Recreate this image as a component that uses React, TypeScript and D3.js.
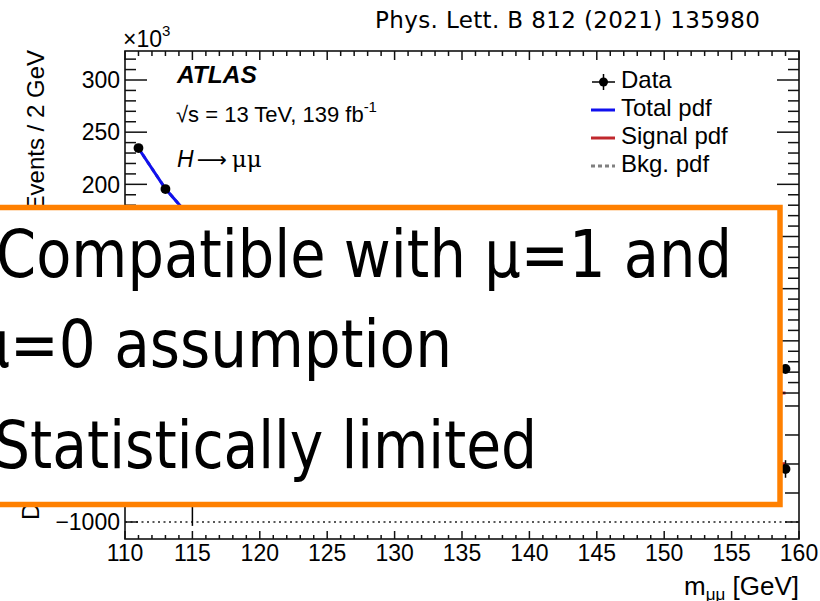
import React from 'react';
import * as d3 from 'd3';

// Dimuon mass bin centres [GeV], 2 GeV bins from 110 to 160
const massBins = [111, 113, 115, 117, 119, 121, 123, 125, 127, 129, 131, 133, 135, 137, 139, 141, 143, 145, 147, 149, 151, 153, 155, 157, 159];

// Observed events per bin (×10^3)
const dataEvents = [234.8, 195.5, 165.7, 142.9, 123.1, 108.0, 95.3, 84.5, 75.4, 68.3, 61.5, 55.9, 51.2, 46.7, 43.0, 39.7, 36.5, 33.9, 31.6, 29.3, 27.6, 25.9, 24.8, 23.9, 23.0];

// Fitted total pdf (×10^3)
const totalPdf = [234.6, 195.8, 166.0, 142.5, 123.4, 107.8, 95.0, 84.4, 75.6, 68.1, 61.6, 56.0, 51.1, 46.8, 43.0, 39.6, 36.6, 33.9, 31.5, 29.4, 27.5, 26.0, 24.8, 23.9, 23.1];

// Fitted signal pdf (×10^3)
const signalPdf = [0.005, 0.01, 0.02, 0.04, 0.08, 0.17, 0.3, 0.37, 0.26, 0.12, 0.05, 0.025, 0.015, 0.01, 0.008, 0.006, 0.005, 0.004, 0.004, 0.003, 0.003, 0.003, 0.003, 0.003, 0.003];

// Data minus background fit (events)
const dataMinusBkg = [-150, 210, -660, 120, -80, 180, -60, 240, 90, -130, 60, -40, 110, -90, 30, 70, -110, 50, -20, 80, -60, 40, -30, 20, -86];

const mainTicks = [0, 50, 100, 150, 200, 250, 300];
const mainMinorTicks = d3.range(0, 330, 10);
const lowerTicks = [-1000, -500, 0, 500, 1000];
const massTicks = [110, 115, 120, 125, 130, 135, 140, 145, 150, 155, 160];
const massMinorTicks = d3.range(110, 161, 1);

const legendLabels = ['Data', 'Total pdf', 'Signal pdf', 'Bkg. pdf'];
const summaryLines = ['Compatible with μ=1 and', 'μ=0 assumption', 'Statistically limited'];

const FONT = "'Liberation Sans', Arial, Helvetica, sans-serif";
const SLIDE_FONT = "'DejaVu Sans', 'Liberation Sans', sans-serif";
const BLUE = '#1010ee';
const RED = '#c0282d';
const GREY = '#808080';
const ORANGE = '#ff8000';

export default function App() {
  const left = 125;
  const right = 799;
  const top = 51;
  const bottom = 539;
  const split = 400;

  const x = d3.scaleLinear().domain([110, 160]).range([left, right]);
  const yMain = d3.scaleLinear().domain([-6.7, 327.8]).range([split, top]);
  const yLow = d3.scaleLinear().domain([-1293, 1103]).range([bottom, split]);

  const mainLine = d3
    .line<number>()
    .x((_, i) => x(massBins[i]))
    .y((d) => yMain(d));
  const lowLine = d3
    .line<number>()
    .x((_, i) => x(massBins[i]))
    .y((d) => yLow(d));

  const bkgPdf = totalPdf.map((t, i) => t - signalPdf[i]);
  const signalResidual = signalPdf.map((s) => s * 1000);

  const axisStroke = '#111';

  return (
    <svg
      width={820}
      height={601}
      viewBox="0 0 820 601"
      style={{ position: 'absolute', left: 0, top: 0, background: '#fff' }}
      fontFamily={FONT}
    >
      <rect x={0} y={0} width={820} height={601} fill="#fff" />

      {/* Curves in main panel */}
      <path d={mainLine(bkgPdf) || ''} fill="none" stroke={GREY} strokeWidth={3} strokeDasharray="4,4" />
      <path d={mainLine(signalPdf) || ''} fill="none" stroke={RED} strokeWidth={3} />
      <path d={mainLine(totalPdf) || ''} fill="none" stroke={BLUE} strokeWidth={3} />

      {/* Data points, main panel */}
      {dataEvents.map((v, i) => {
        const err = Math.sqrt(v * 1000) / 1000;
        return (
          <g key={`d${i}`}>
            <line x1={x(massBins[i])} x2={x(massBins[i])} y1={yMain(v + err)} y2={yMain(v - err)} stroke="#000" strokeWidth={1.5} />
            <circle cx={x(massBins[i])} cy={yMain(v)} r={4.9} fill="#000" />
          </g>
        );
      })}

      {/* Lower panel: reference line, signal residual and data minus background */}
      <line x1={left} x2={right} y1={yLow(-1000)} y2={yLow(-1000)} stroke="#222" strokeWidth={1.5} strokeDasharray="2,3.5" />
      <path d={lowLine(signalResidual) || ''} fill="none" stroke={RED} strokeWidth={3} />
      {dataMinusBkg.map((v, i) => {
        const err = Math.sqrt(dataEvents[i] * 1000);
        return (
          <g key={`r${i}`}>
            <line x1={x(massBins[i])} x2={x(massBins[i])} y1={yLow(v + err)} y2={yLow(v - err)} stroke="#000" strokeWidth={1.5} />
            <circle cx={x(massBins[i])} cy={yLow(v)} r={4.9} fill="#000" />
          </g>
        );
      })}

      {/* Frame */}
      <rect x={left} y={top} width={right - left} height={bottom - top} fill="none" stroke={axisStroke} strokeWidth={1.6} />

      {/* Main panel y ticks (left and right) */}
      {mainMinorTicks.map((t) => {
        const major = t % 50 === 0;
        const len = major ? 22 : 11;
        const yy = yMain(t);
        return (
          <g key={`my${t}`}>
            <line x1={left} x2={left + len} y1={yy} y2={yy} stroke={axisStroke} strokeWidth={1.5} />
            <line x1={right - len} x2={right} y1={yy} y2={yy} stroke={axisStroke} strokeWidth={1.5} />
          </g>
        );
      })}
      {mainTicks.map((t) => (
        <text key={`ml${t}`} x={120} y={yMain(t)} dy="0.36em" textAnchor="end" fontSize={23} fill="#000">
          {t}
        </text>
      ))}

      {/* Lower panel y ticks */}
      {lowerTicks.map((t) => {
        const yy = yLow(t);
        return (
          <g key={`ly${t}`}>
            <line x1={left} x2={left + 13} y1={yy} y2={yy} stroke={axisStroke} strokeWidth={1.5} />
            <line x1={right - 14} x2={right} y1={yy} y2={yy} stroke={axisStroke} strokeWidth={1.5} />
            {t % 1000 === 0 && (
              <text x={120} y={yy} dy="0.36em" textAnchor="end" fontSize={23} fill="#000">
                {t < 0 ? `\u2212${Math.abs(t)}` : t}
              </text>
            )}
          </g>
        );
      })}

      {/* x ticks top and bottom */}
      {massMinorTicks.map((t) => {
        const major = t % 5 === 0;
        const xx = x(t);
        return (
          <g key={`xt${t}`}>
            <line x1={xx} x2={xx} y1={top} y2={top + (major ? 9 : 5)} stroke={axisStroke} strokeWidth={1.5} />
            <line x1={xx} x2={xx} y1={bottom} y2={bottom - (major ? 8 : 4)} stroke={axisStroke} strokeWidth={1.5} />
          </g>
        );
      })}
      {massTicks.map((t) => (
        <text key={`xl${t}`} x={x(t)} y={561} textAnchor="middle" fontSize={23} fill="#000">
          {t}
        </text>
      ))}

      {/* Axis titles */}
      <text x={799} y={595} textAnchor="end" fontSize={26} fill="#000">
        m<tspan fontSize={17} dy={5}>μμ</tspan>
        <tspan dy={-5}> [GeV]</tspan>
      </text>
      <text transform="translate(44,50) rotate(-90)" textAnchor="end" fontSize={24} fill="#000">
        Events / 2 GeV
      </text>
      <text transform="translate(39,520) rotate(-90)" textAnchor="start" fontSize={24} fill="#000">
        Data − Bkg.
      </text>
      <text x={123} y={47} fontSize={23} fill="#000">
        ×10<tspan fontSize={15} dy={-11}>3</tspan>
      </text>

      {/* ATLAS label */}
      <text x={177} y={83} fontSize={24.5} fontWeight="bold" fontStyle="italic" fill="#000">
        ATLAS
      </text>
      <text x={176} y={122} fontSize={22} fill="#000">
        √s = 13 TeV, 139 fb<tspan fontSize={15} dy={-10}>-1</tspan>
      </text>
      <text x={177} y={167} fontSize={23} fill="#000">
        <tspan fontStyle="italic">H</tspan>
        <tspan fontFamily="'DejaVu Sans', sans-serif" fontSize={21} dx={3}>⟶</tspan>
        <tspan fontFamily="'DejaVu Serif', serif" fontSize={23} dx={5}>μμ</tspan>
      </text>

      {/* Legend */}
      {legendLabels.map((label, i) => {
        const yy = 88 + i * 28;
        const cy = yy - 6;
        return (
          <g key={label}>
            {i === 0 && (
              <g>
                <line x1={592} x2={615} y1={cy} y2={cy} stroke="#000" strokeWidth={1.5} />
                <line x1={603.5} x2={603.5} y1={cy - 8} y2={cy + 8} stroke="#000" strokeWidth={1.5} />
                <circle cx={603.5} cy={cy} r={4.5} fill="#000" />
              </g>
            )}
            {i === 1 && <line x1={591} x2={615} y1={cy} y2={cy} stroke={BLUE} strokeWidth={3} />}
            {i === 2 && <line x1={591} x2={615} y1={cy} y2={cy} stroke={RED} strokeWidth={3} />}
            {i === 3 && <line x1={591} x2={615} y1={cy} y2={cy} stroke={GREY} strokeWidth={3} strokeDasharray="4,3" />}
            <text x={621} y={yy} fontSize={24} fill="#000">
              {label}
            </text>
          </g>
        );
      })}

      {/* Reference */}
      <text x={375} y={28} fontSize={23} fontFamily="'DejaVu Sans', sans-serif" textLength={385} lengthAdjust="spacing" fill="#000">
        Phys. Lett. B 812 (2021) 135980
      </text>

      {/* Summary box */}
      <rect x={-10} y={207.5} width={790} height={297} fill="#fff" stroke={ORANGE} strokeWidth={5.5} />
      <text x={-4} y={277} fontSize={66} fontFamily={SLIDE_FONT} textLength={736} lengthAdjust="spacingAndGlyphs" fill="#000">
        {summaryLines[0]}
      </text>
      <text x={-27} y={367} fontSize={66} fontFamily={SLIDE_FONT} textLength={479} lengthAdjust="spacingAndGlyphs" fill="#000">
        {summaryLines[1]}
      </text>
      <text x={-6} y={468} fontSize={66} fontFamily={SLIDE_FONT} textLength={543} lengthAdjust="spacingAndGlyphs" fill="#000">
        {summaryLines[2]}
      </text>
    </svg>
  );
}
